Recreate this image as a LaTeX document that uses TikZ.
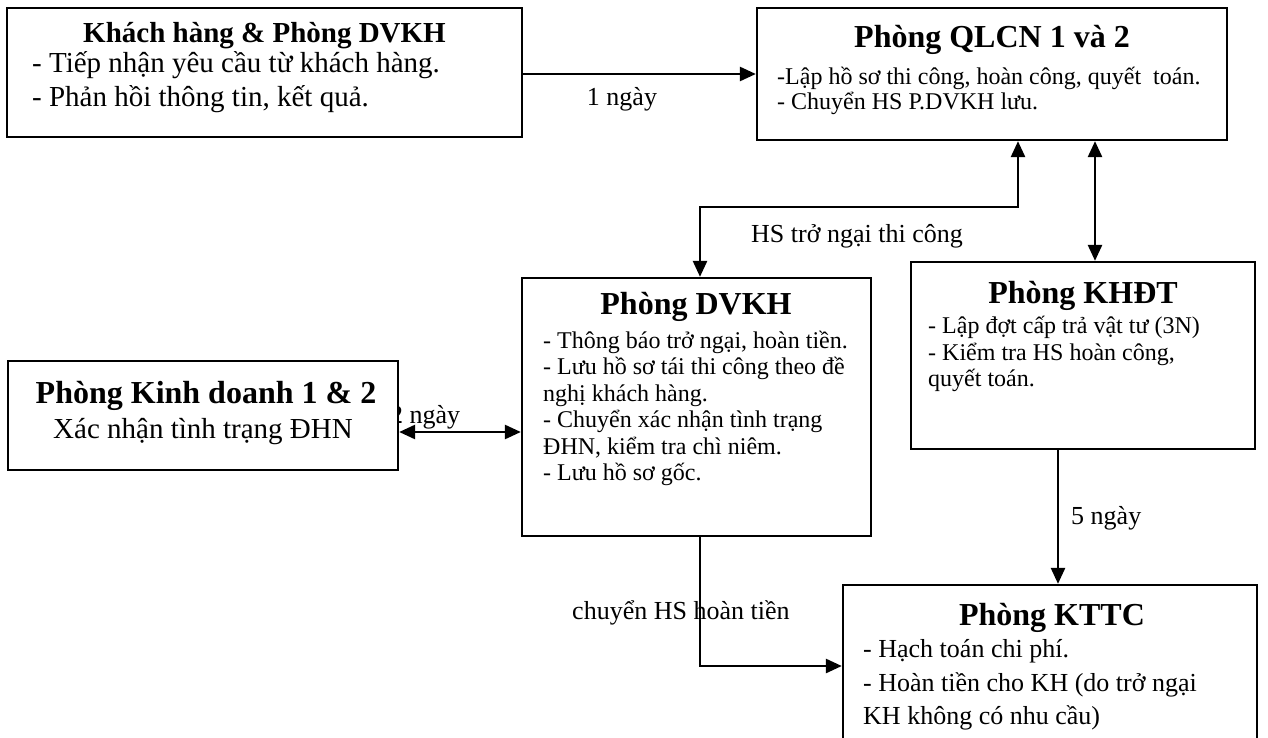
\documentclass[tikz,border=0pt]{standalone}
\usepackage{fontspec}
\setmainfont{Liberation Serif}
\usetikzlibrary{arrows.meta}
\begin{document}
\begin{tikzpicture}[x=1pt,y=-1pt,
  box/.style={draw, line width=2.3pt, fill=white, inner sep=0pt},
  ttl/.style={font=\fontsize{32}{36}\selectfont\bfseries, inner sep=0pt, anchor=base},
  ttlk/.style={font=\fontsize{29}{33}\selectfont\bfseries, inner sep=0pt, anchor=base},
  bodyk/.style={font=\fontsize{29}{33}\selectfont, inner sep=0pt, anchor=base west},
  body/.style={font=\fontsize{24}{28}\selectfont, inner sep=0pt, anchor=base west},
  bodyt/.style={font=\fontsize{26}{30}\selectfont, inner sep=0pt, anchor=base west},
  lbl/.style={font=\fontsize{26}{30}\selectfont, inner sep=0pt},
  conn/.style={line width=2.6pt},
  tip/.style={-{Triangle[length=16pt,width=14pt]}},
  tips/.style={{Triangle[length=16pt,width=14pt]}-{Triangle[length=16pt,width=14pt]}}
]
\useasboundingbox[fill=white] (0,0) rectangle (1268,738);

% labels placed first (some are partly covered)
\node[lbl, anchor=base west] (l2) at (390,423) {2 ngày};
\node[lbl, anchor=base] (l1) at (622,106) {1 ngày};
\node[lbl, anchor=base] (lhs) at (857,242) {HS trở ngại thi công};
\node[lbl, anchor=base west] (l5) at (1071,524) {5 ngày};
\node[lbl, anchor=base west] (lch) at (572,619) {chuyển HS hoàn tiền};

% boxes
\node[box, minimum width=515pt, minimum height=129pt] (kh) at (264.5,72.5) {};
\node[box, minimum width=470pt, minimum height=132pt] (qlcn) at (992,74) {};
\node[box, minimum width=349pt, minimum height=258pt] (dvkh) at (696.5,407) {};
\node[box, minimum width=344pt, minimum height=187pt] (khdt) at (1083,355.5) {};
\node[box, minimum width=390pt, minimum height=109pt] (kd) at (203,415.5) {};
\node[box, minimum width=414pt, minimum height=175pt] (kttc) at (1050,672.5) {};

% texts
\node[ttlk] (kh-t) at (264.5,43) {Khách hàng \& Phòng DVKH};
\node[bodyk] (kh-1) at (32,73) {- Tiếp nhận yêu cầu từ khách hàng.};
\node[bodyk] (kh-2) at (32,107) {- Phản hồi thông tin, kết quả.};

\node[ttl] (qlcn-t) at (992,48) {Phòng QLCN 1 và 2};
\node[body] (qlcn-1) at (777,85) {-Lập hồ sơ thi công, hoàn công, quyết\ \ toán.};
\node[body] (qlcn-2) at (777,110) {- Chuyển HS P.DVKH lưu.};

\node[ttl] (dvkh-t) at (696,314) {Phòng DVKH};
\node[body] (dvkh-1) at (543,348) {- Thông báo trở ngại, hoàn tiền.};
\node[body] (dvkh-2) at (543,374.5) {- Lưu hồ sơ tái thi công theo đề};
\node[body] (dvkh-3) at (543,401) {nghị khách hàng.};
\node[body] (dvkh-4) at (543,427.5) {- Chuyển xác nhận tình trạng};
\node[body] (dvkh-5) at (543,454) {ĐHN, kiểm tra chì niêm.};
\node[body] (dvkh-6) at (543,480.5) {- Lưu hồ sơ gốc.};

\node[ttl] (khdt-t) at (1083,303) {Phòng KHĐT};
\node[body] (khdt-1) at (928,333) {- Lập đợt cấp trả vật tư (3N)};
\node[body] (khdt-2) at (928,360) {- Kiểm tra HS hoàn công,};
\node[body] (khdt-3) at (928,386) {quyết toán.};

\node[ttl] (kd-t) at (206,403) {Phòng Kinh doanh 1 \& 2};
\node[font=\fontsize{29}{33}\selectfont, inner sep=0pt, anchor=base] (kd-1) at (203,438) {Xác nhận tình trạng ĐHN};

\node[ttl] (kttc-t) at (1052,625) {Phòng KTTC};
\node[bodyt] (kttc-1) at (863,657) {- Hạch toán chi phí.};
\node[bodyt] (kttc-2) at (863,691) {- Hoàn tiền cho KH (do trở ngại};
\node[bodyt] (kttc-3) at (863,724) {KH không có nhu cầu)};

% helper coordinates
\coordinate (xA) at (1018,0);
\coordinate (bendA) at (1018,207);
\coordinate (xB) at (1095,0);
\coordinate (xC) at (1058,0);
\coordinate (xD) at (700,0);
\coordinate (yE) at (0,432);
\coordinate (yF) at (0,666);
\coordinate (yG) at (0,74);

% connectors
\draw[conn, tip] (kh.east |- yG) -- (qlcn.west |- yG);
\draw[conn, tips] (qlcn.south -| xA) -- (bendA) -| (dvkh.north -| xD);
\draw[conn, tips] (qlcn.south -| xB) -- (khdt.north -| xB);
\draw[conn, tips] (kd.east |- yE) -- (dvkh.west |- yE);
\draw[conn, tip] (khdt.south -| xC) -- (kttc.north -| xC);
\draw[conn, tip] (dvkh.south -| xD) |- (kttc.west |- yF);
\end{tikzpicture}
\end{document}
